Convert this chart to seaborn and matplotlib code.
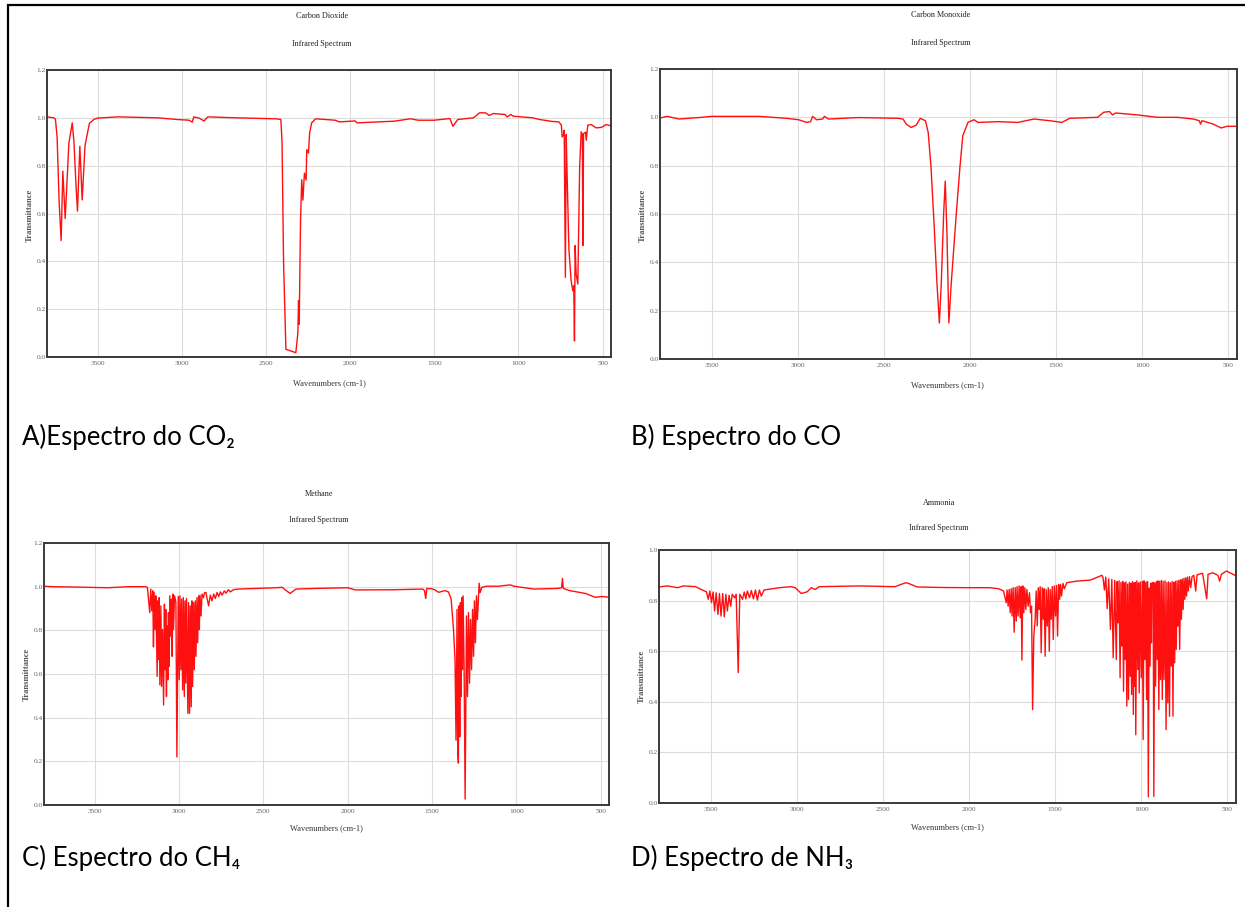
import numpy as np
import pandas as pd
import matplotlib
matplotlib.use("Agg")
import matplotlib.pyplot as plt
import seaborn as sns
from matplotlib.patches import Rectangle

# ---------------------------------------------------------------- data
x_ticks = [3500, 3000, 2500, 2000, 1500, 1000, 500]
y_ticks_12 = [0.0, 0.2, 0.4, 0.6, 0.8, 1.0, 1.2]
y_ticks_10 = [0.0, 0.2, 0.4, 0.6, 0.8, 1.0]

titles = ["Carbon Dioxide", "Carbon Monoxide", "Methane", "Ammonia"]
captions = ["A)Espectro do CO\u2082", "B) Espectro do CO",
            "C) Espectro do CH\u2084", "D) Espectro de NH\u2083"]

co2_wn = [3800, 3760, 3750, 3740, 3728, 3716, 3706, 3692, 3680, 3670, 3650,
          3640, 3628, 3619, 3605, 3591, 3574, 3548, 3520, 3498, 3378, 3143,
          3026, 2956, 2937, 2928, 2897, 2867, 2845, 2674, 2440, 2411, 2404,
          2395, 2381, 2322, 2310, 2306, 2302, 2294, 2287, 2280, 2271, 2261,
          2257, 2247, 2240, 2228, 2205, 2088, 2064, 1970, 1959, 1736, 1642,
          1595, 1501, 1407, 1389, 1360, 1267, 1231, 1196, 1173, 1149, 1079,
          1067, 1044, 1032, 915, 874, 800, 760, 745, 740, 732, 728, 721, 716,
          712, 700, 687, 677, 671, 667, 663, 657, 647, 643, 636, 627, 620,
          617, 613, 601, 597, 588, 568, 538, 508, 478, 450]
co2_tr = [1.004, 1.0, 0.995, 0.92, 0.65, 0.487, 0.777, 0.579, 0.75, 0.894,
          0.979, 0.90, 0.72, 0.610, 0.881, 0.657, 0.885, 0.977, 0.994, 0.999,
          1.004, 1.0, 0.993, 0.99, 0.982, 1.004, 0.999, 0.987, 1.004, 1.0,
          0.996, 0.993, 0.90, 0.40, 0.032, 0.018, 0.10, 0.236, 0.137, 0.572,
          0.741, 0.656, 0.769, 0.74, 0.867, 0.853, 0.937, 0.979, 0.996, 0.99,
          0.983, 0.987, 0.979, 0.986, 0.996, 0.99, 0.99, 0.997, 0.965, 0.993,
          1.0, 1.021, 1.021, 1.01, 1.018, 1.014, 1.004, 1.014, 1.007, 1.0,
          0.993, 0.985, 0.983, 0.97, 0.92, 0.93, 0.948, 0.333, 0.93, 0.80,
          0.45, 0.32, 0.277, 0.298, 0.067, 0.466, 0.347, 0.305, 0.49, 0.80,
          0.941, 0.93, 0.466, 0.934, 0.94, 0.906, 0.969, 0.972, 0.958, 0.96,
          0.972, 0.966]

co_wn = [3800, 3759, 3690, 3574, 3500, 3227, 3065, 2995, 2949, 2926, 2914,
         2891, 2856, 2845, 2822, 2648, 2417, 2389, 2370, 2342, 2312, 2289,
         2259, 2243, 2227, 2208, 2192, 2178, 2167, 2153, 2144, 2134, 2123,
         2109, 2081, 2058, 2042, 2012, 1977, 1954, 1838, 1722, 1629, 1537,
         1467, 1421, 1259, 1224, 1190, 1173, 1155, 1028, 912, 796, 703, 669,
         662, 653, 588, 542, 507, 450]
co_tr = [0.997, 1.004, 0.993, 0.999, 1.004, 1.004, 0.996, 0.990, 0.979,
         0.982, 1.004, 0.990, 0.993, 1.004, 0.993, 0.999, 0.996, 0.993,
         0.972, 0.958, 0.968, 0.996, 0.986, 0.938, 0.799, 0.549, 0.313,
         0.149, 0.313, 0.604, 0.736, 0.521, 0.149, 0.313, 0.590, 0.799,
         0.924, 0.979, 0.990, 0.979, 0.982, 0.979, 0.993, 0.986, 0.979,
         0.996, 1.000, 1.021, 1.024, 1.010, 1.018, 1.010, 1.000, 1.000,
         0.993, 0.986, 0.972, 0.986, 0.972, 0.956, 0.963, 0.963]

ch4_wn = [3800, 3750, 3600, 3420, 3300, 3200, 3187, 3173, 3167, 3161, 3155,
          3151, 3147, 3141, 3137, 3129, 3125, 3121, 3117, 3113, 3107, 3103,
          3097, 3091, 3086, 3082, 3078, 3074, 3070, 3066, 3062, 3058, 3054,
          3048, 3044, 3040, 3036, 3032, 3026, 3018, 3012, 3004, 2998, 2994,
          2988, 2984, 2978, 2974, 2968, 2964, 2959, 2955, 2947, 2943, 2937,
          2933, 2927, 2923, 2919, 2913, 2909, 2903, 2899, 2893, 2889, 2883,
          2879, 2875, 2869, 2863, 2855, 2848, 2840, 2824, 2814, 2804, 2794,
          2784, 2774, 2764, 2754, 2744, 2731, 2721, 2707, 2695, 2677, 2651,
          2423, 2388, 2364, 2341, 2306, 2188, 2000, 1953, 1718, 1553, 1544,
          1537, 1530, 1500, 1483, 1460, 1424, 1402, 1386, 1372, 1363, 1357,
          1351, 1347, 1343, 1339, 1335, 1331, 1327, 1323, 1319, 1315, 1309,
          1303, 1299, 1295, 1289, 1283, 1277, 1271, 1265, 1259, 1253, 1248,
          1242, 1236, 1230, 1220, 1214, 1204, 1177, 1107, 1036, 1013, 895,
          754, 731, 726, 721, 684, 590, 531, 495, 450]
ch4_tr = [1.002, 1.0, 0.998, 0.995, 1.0, 1.0, 0.997, 0.881, 0.989, 0.889,
          0.981, 0.724, 0.973, 0.804, 0.958, 0.589, 0.935, 0.666, 0.950,
          0.550, 0.912, 0.543, 0.804, 0.458, 0.920, 0.620, 0.896, 0.497,
          0.820, 0.574, 0.881, 0.635, 0.958, 0.773, 0.943, 0.681, 0.966,
          0.804, 0.958, 0.930, 0.220, 0.955, 0.574, 0.958, 0.620, 0.943,
          0.527, 0.950, 0.497, 0.935, 0.558, 0.946, 0.420, 0.927, 0.420,
          0.912, 0.450, 0.935, 0.543, 0.927, 0.620, 0.935, 0.681, 0.950,
          0.743, 0.958, 0.804, 0.961, 0.866, 0.966, 0.950, 0.973, 0.973,
          0.912, 0.961, 0.935, 0.966, 0.946, 0.973, 0.955, 0.976, 0.961,
          0.981, 0.970, 0.986, 0.976, 0.986, 0.989, 0.995, 0.997, 0.982,
          0.969, 0.989, 0.992, 0.995, 0.985, 0.986, 0.989, 0.982, 0.946,
          0.992, 0.990, 0.986, 0.974, 0.982, 0.976, 0.943, 0.804, 0.666,
          0.297, 0.896, 0.250, 0.192, 0.912, 0.312, 0.927, 0.497, 0.950,
          0.620, 0.958, 0.620, 0.027, 0.435, 0.866, 0.497, 0.881, 0.558,
          0.850, 0.620, 0.896, 0.681, 0.935, 0.743, 0.958, 0.850, 1.016,
          0.973, 0.997, 1.002, 1.002, 1.008, 1.002, 0.989, 0.992, 0.995,
          1.038, 0.992, 0.982, 0.969, 0.951, 0.955, 0.952]

nh3_wn = [3800, 3750, 3692, 3658, 3588, 3542, 3525, 3514, 3505, 3495, 3486,
          3477, 3468, 3458, 3449, 3440, 3430, 3421, 3412, 3403, 3393, 3384,
          3375, 3361, 3352, 3340, 3331, 3315, 3305, 3296, 3287, 3275, 3264,
          3252, 3240, 3229, 3217, 3206, 3190, 3171, 3101, 3032, 3009, 2974,
          2939, 2916, 2893, 2870, 2638, 2430, 2395, 2365, 2337, 2302, 2175,
          2012, 1878, 1829, 1800, 1784, 1779, 1773, 1767, 1761, 1755, 1750,
          1744, 1738, 1732, 1726, 1721, 1715, 1709, 1703, 1697, 1693, 1688,
          1682, 1676, 1670, 1664, 1657, 1649, 1643, 1637, 1631, 1624, 1616,
          1610, 1604, 1598, 1593, 1587, 1581, 1575, 1569, 1564, 1558, 1552,
          1546, 1540, 1534, 1529, 1523, 1517, 1511, 1505, 1498, 1492, 1486,
          1480, 1474, 1469, 1463, 1455, 1447, 1432, 1374, 1296, 1238, 1228,
          1222, 1214, 1206, 1198, 1189, 1179, 1171, 1163, 1154, 1145, 1140,
          1135, 1129, 1123, 1118, 1113, 1108, 1103, 1098, 1094, 1089, 1084,
          1079, 1074, 1069, 1064, 1060, 1056, 1051, 1046, 1042, 1038, 1035,
          1032, 1026, 1020, 1016, 1012, 1006, 1000, 994, 989, 984, 979, 974,
          969, 964, 959, 954, 949, 945, 941, 938, 935, 931, 927, 922, 917,
          912, 907, 903, 898, 893, 888, 883, 878, 873, 868, 862, 856, 851,
          846, 841, 836, 831, 826, 821, 816, 811, 806, 802, 797, 792, 787,
          782, 777, 772, 767, 762, 757, 752, 747, 742, 737, 732, 727, 720,
          713, 705, 695, 684, 676, 664, 644, 620, 612, 585, 555, 545, 535,
          505, 486, 450]
nh3_tr = [0.854, 0.858, 0.851, 0.858, 0.855, 0.840, 0.835, 0.805, 0.838,
          0.792, 0.834, 0.759, 0.831, 0.745, 0.828, 0.739, 0.828, 0.736,
          0.825, 0.759, 0.821, 0.778, 0.825, 0.811, 0.825, 0.515, 0.825,
          0.805, 0.834, 0.807, 0.838, 0.811, 0.840, 0.807, 0.842, 0.802,
          0.842, 0.818, 0.842, 0.844, 0.851, 0.855, 0.851, 0.828, 0.835,
          0.851, 0.844, 0.855, 0.858, 0.855, 0.864, 0.871, 0.864, 0.854,
          0.852, 0.851, 0.851, 0.847, 0.838, 0.792, 0.842, 0.778, 0.844,
          0.752, 0.847, 0.739, 0.851, 0.675, 0.851, 0.719, 0.855, 0.739,
          0.858, 0.732, 0.855, 0.565, 0.858, 0.752, 0.851, 0.765, 0.844,
          0.778, 0.831, 0.752, 0.778, 0.369, 0.660, 0.726, 0.838, 0.700,
          0.851, 0.765, 0.855, 0.594, 0.851, 0.726, 0.847, 0.580, 0.844,
          0.699, 0.851, 0.600, 0.844, 0.726, 0.855, 0.646, 0.858, 0.739,
          0.860, 0.660, 0.864, 0.805, 0.864, 0.818, 0.868, 0.847, 0.871,
          0.877, 0.881, 0.897, 0.900, 0.891, 0.842, 0.893, 0.768, 0.886,
          0.686, 0.884, 0.574, 0.880, 0.567, 0.875, 0.712, 0.878, 0.495,
          0.872, 0.620, 0.876, 0.442, 0.870, 0.567, 0.874, 0.383, 0.865,
          0.409, 0.872, 0.501, 0.868, 0.429, 0.875, 0.350, 0.870, 0.462,
          0.872, 0.270, 0.878, 0.528, 0.870, 0.435, 0.874, 0.495, 0.876,
          0.251, 0.878, 0.567, 0.872, 0.409, 0.876, 0.024, 0.850, 0.541,
          0.868, 0.633, 0.870, 0.818, 0.872, 0.026, 0.870, 0.462, 0.875,
          0.567, 0.878, 0.369, 0.876, 0.488, 0.880, 0.409, 0.876, 0.488,
          0.878, 0.290, 0.872, 0.396, 0.874, 0.343, 0.870, 0.541, 0.876,
          0.343, 0.872, 0.554, 0.876, 0.607, 0.878, 0.699, 0.880, 0.607,
          0.882, 0.726, 0.885, 0.765, 0.888, 0.805, 0.890, 0.818, 0.893,
          0.838, 0.895, 0.851, 0.895, 0.900, 0.838, 0.902, 0.904, 0.908,
          0.807, 0.904, 0.910, 0.900, 0.877, 0.904, 0.917, 0.910, 0.898]

# ---------------------------------------------------------------- layout
W, H = 1245, 907
sns.set_style("white")
plt.rcParams["font.family"] = ["Liberation Serif", "DejaVu Serif"]

fig = plt.figure(figsize=(W / 100, H / 100), dpi=100)
fig.patch.set_facecolor("white")


def fx(x):
    return x / W


def fy(y):
    return 1 - y / H


# outer frame (left and top edges visible)
fig.add_artist(Rectangle((fx(8), -0.2), 1.5, fy(5) + 0.2,
                         transform=fig.transFigure, fill=False,
                         ec="black", lw=1.6))

panels = [
    dict(wn=co2_wn, tr=co2_tr, box=(47, 70, 611, 357), yt=y_ticks_12,
         title_xy=(322, 16, 44), xlab=(329, 383), ylab=(30, 215)),
    dict(wn=co_wn, tr=co_tr, box=(660, 69, 1237, 359), yt=y_ticks_12,
         title_xy=(941, 15, 43), xlab=(947, 385), ylab=(643, 215)),
    dict(wn=ch4_wn, tr=ch4_tr, box=(44, 543, 609, 805), yt=y_ticks_12,
         title_xy=(319, 494, 520), xlab=(326, 828), ylab=(27, 674)),
    dict(wn=nh3_wn, tr=nh3_tr, box=(659, 550, 1236, 803), yt=y_ticks_10,
         title_xy=(939, 503, 528), xlab=(947, 827), ylab=(642, 676)),
]

for i, p in enumerate(panels):
    l, t, r, b = p["box"]
    ax = fig.add_axes([fx(l), fy(b), (r - l) / W, (b - t) / H])
    df = pd.DataFrame({"Wavenumber": p["wn"], "Transmittance": p["tr"]})
    sns.lineplot(data=df, x="Wavenumber", y="Transmittance", ax=ax,
                 color="#ff1010", lw=1.0, estimator=None, sort=False)
    ax.set_xlim(3800, 450)
    ax.set_ylim(p["yt"][0], p["yt"][-1])
    ax.set_xticks(x_ticks)
    ax.set_xticklabels([str(v) for v in x_ticks])
    ax.set_yticks(p["yt"])
    ax.set_yticklabels([f"{v:.1f}" for v in p["yt"]])
    ax.grid(True, color="#dcdcdc", lw=0.8)
    ax.set_axisbelow(True)
    ax.tick_params(axis="x", length=0, labelsize=5.3, colors="#666666",
                   pad=3)
    ax.tick_params(axis="y", length=0, labelsize=5.3, colors="#666666",
                   pad=1)
    for sp in ax.spines.values():
        sp.set_color("#3a3a3a")
        sp.set_linewidth(1.4)
    ax.set_xlabel("")
    ax.set_ylabel("")

    tx, ty1, ty2 = p["title_xy"]
    fig.text(fx(tx), fy(ty1), titles[i], ha="center", va="center",
             fontsize=5.9, color="#222222")
    fig.text(fx(tx), fy(ty2), "Infrared Spectrum", ha="center",
             va="center", fontsize=5.9, color="#222222")
    fig.text(fx(p["xlab"][0]), fy(p["xlab"][1]), "Wavenumbers (cm-1)",
             ha="center", va="center", fontsize=6.0, color="#333333")
    fig.text(fx(p["ylab"][0]), fy(p["ylab"][1]), "Transmittance",
             ha="center", va="center", rotation=90, fontsize=6.2,
             fontweight="bold", color="#555555")

cap_font = ["Lato", "DejaVu Sans"]
cap_pos = [(22, 437), (631, 437), (22, 858), (631, 858)]
for (cx, cy), txt in zip(cap_pos, captions):
    fig.text(fx(cx), fy(cy), txt, ha="left", va="center", fontsize=18.5,
             family=cap_font, color="black")

fig.savefig("out.png", dpi=100, facecolor="white")
